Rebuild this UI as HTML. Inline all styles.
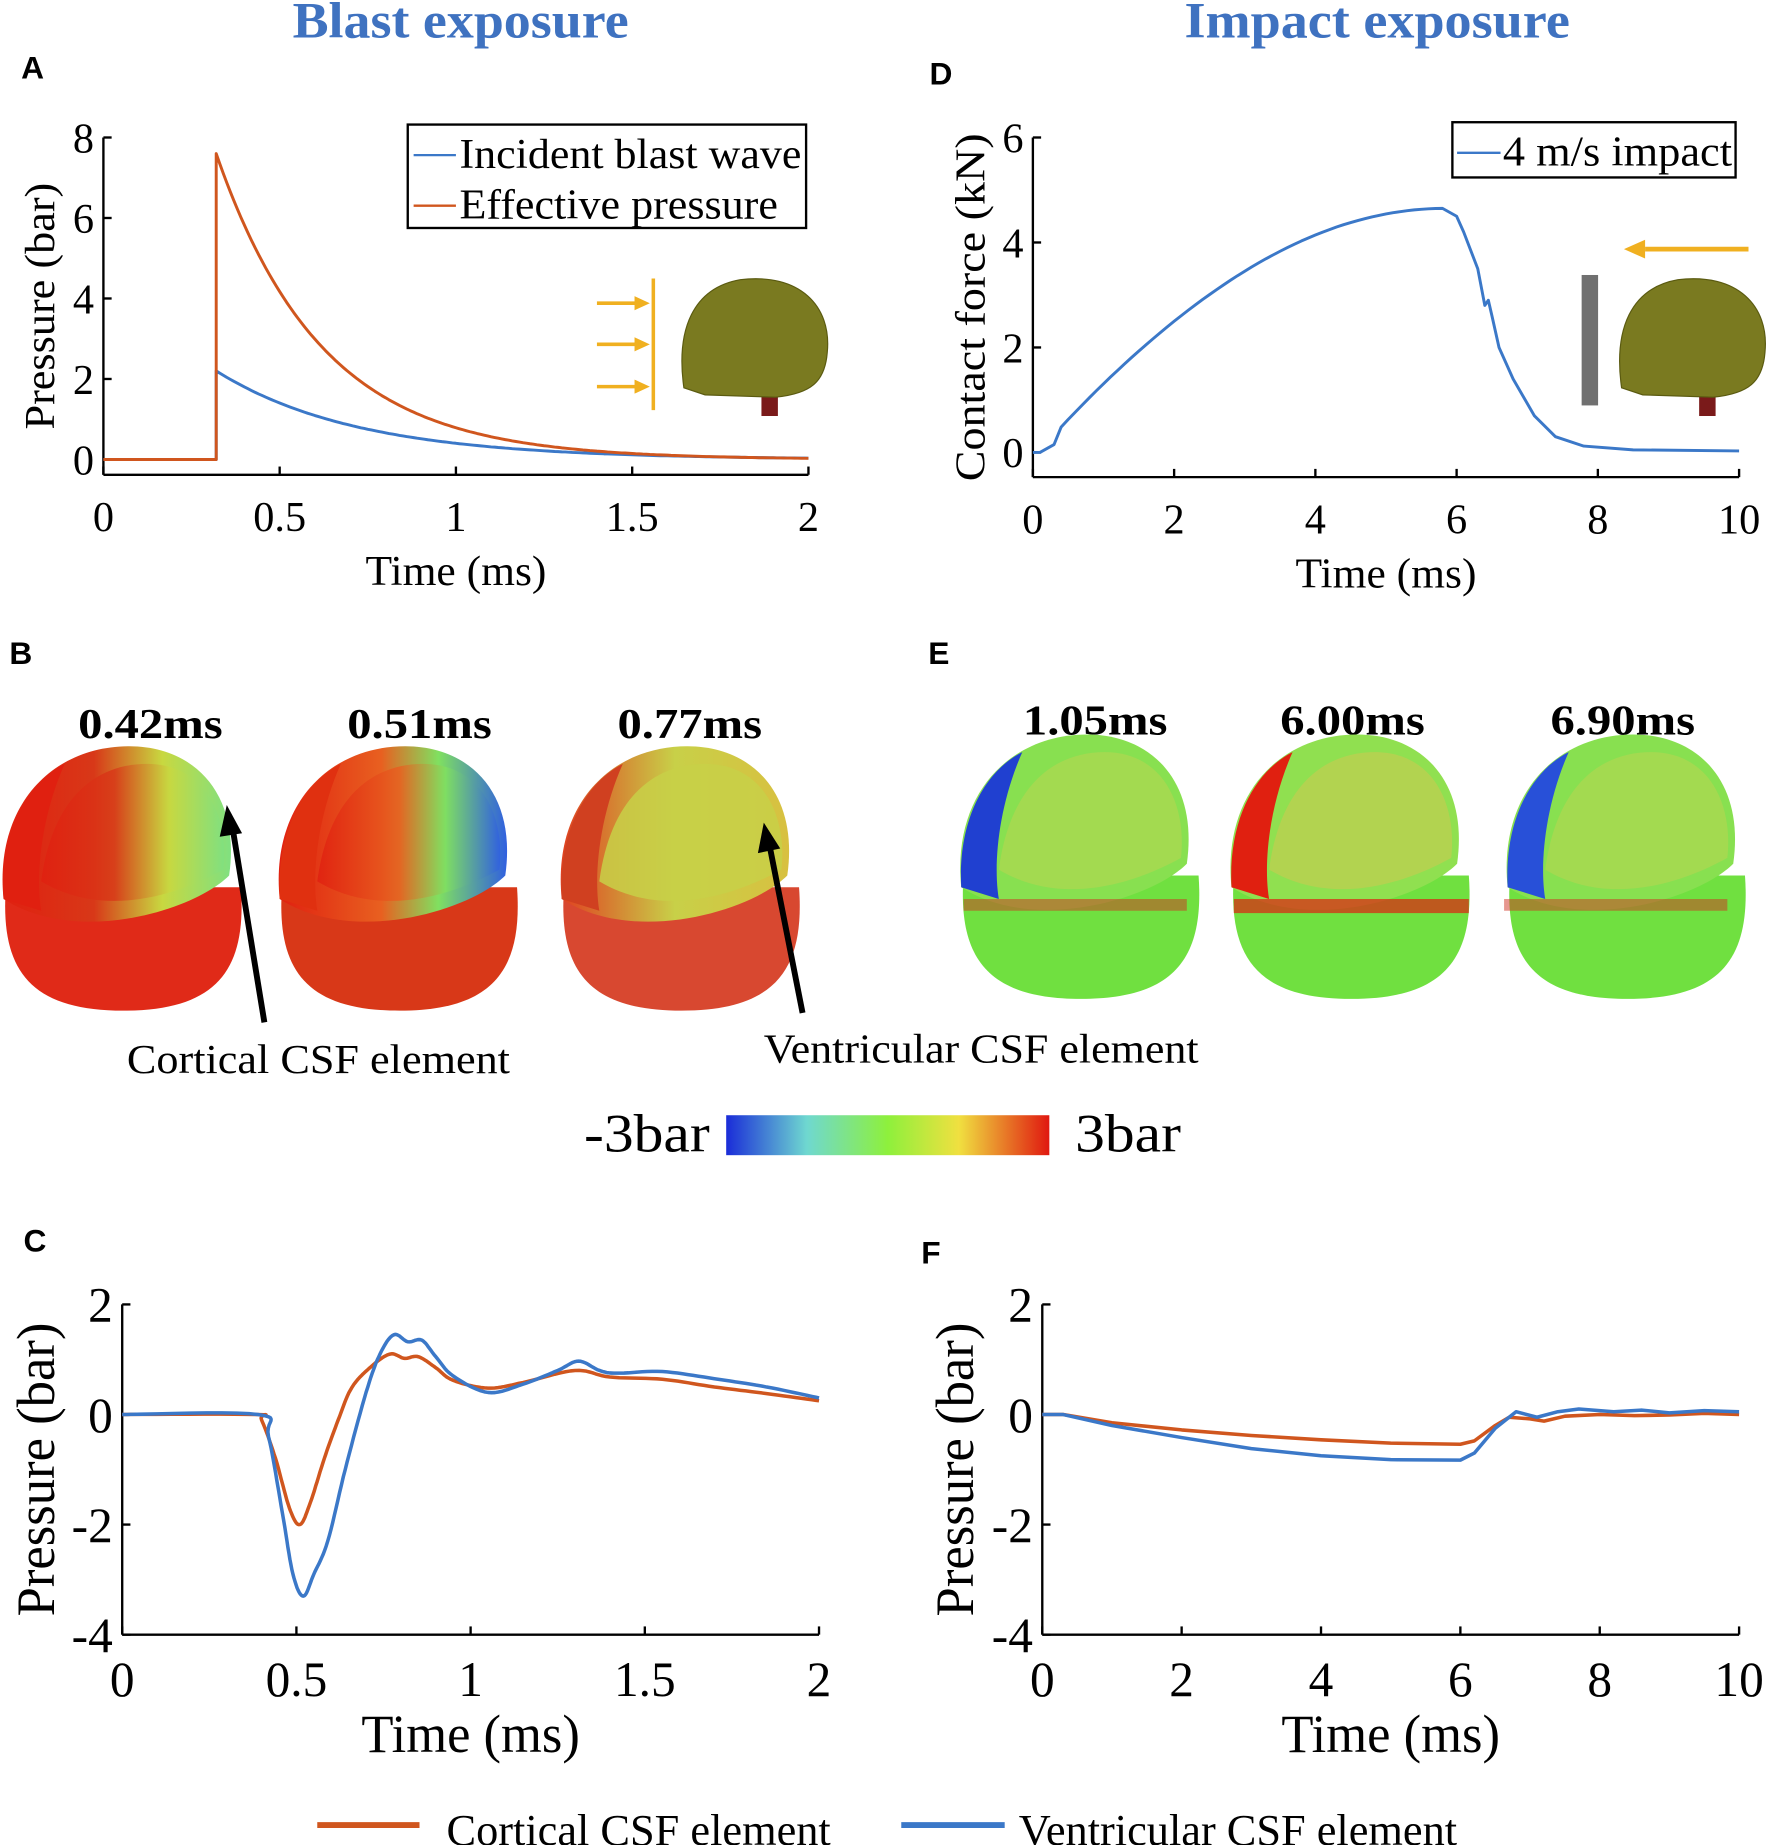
<!DOCTYPE html>
<html><head><meta charset="utf-8"><style>
html,body{margin:0;padding:0;background:#fff}
svg{display:block}
text{font-family:"Liberation Serif",serif}
.sans{font-family:"Liberation Sans",sans-serif;font-weight:bold}
</style></head><body>
<svg id="s" width="1772" height="1845" viewBox="0 0 1508 1570" preserveAspectRatio="none" xmlns="http://www.w3.org/2000/svg">
<defs>
<linearGradient id="cm" x1="0" x2="1" y1="0" y2="0">
<stop offset="0" stop-color="#1a2cd8"/><stop offset="0.25" stop-color="#6fd8d0"/><stop offset="0.5" stop-color="#8ef03c"/><stop offset="0.72" stop-color="#f0e040"/><stop offset="1" stop-color="#e01810"/>
</linearGradient>
<linearGradient id="bA" x1="0" x2="1"><stop offset="0" stop-color="#e02010"/><stop offset="0.4" stop-color="#d83818"/><stop offset="0.7" stop-color="#c8d840"/><stop offset="1" stop-color="#80e080"/></linearGradient>
<linearGradient id="bB" x1="0" x2="1"><stop offset="0" stop-color="#e02010"/><stop offset="0.45" stop-color="#e86020"/><stop offset="0.7" stop-color="#80e060"/><stop offset="1" stop-color="#3060e0"/></linearGradient>
<linearGradient id="bC" x1="0" x2="1"><stop offset="0" stop-color="#e04020"/><stop offset="0.5" stop-color="#c8d048"/><stop offset="1" stop-color="#d8c040"/></linearGradient>
</defs>
<text x="392" y="32" text-anchor="middle" font-size="43" font-weight="bold" fill="#3f72c0" textLength="286" lengthAdjust="spacingAndGlyphs">Blast exposure</text>
<text x="1172" y="32" text-anchor="middle" font-size="43" font-weight="bold" fill="#3f72c0" textLength="328" lengthAdjust="spacingAndGlyphs">Impact exposure</text>
<text class="sans" x="18" y="67" font-size="27">A</text>
<text class="sans" x="791" y="72" font-size="27">D</text>
<text class="sans" x="8" y="565" font-size="27">B</text>
<text class="sans" x="790" y="565" font-size="27">E</text>
<text class="sans" x="20" y="1065" font-size="27">C</text>
<text class="sans" x="784" y="1075" font-size="27">F</text>
<g id="g"></g>
<rect x="347" y="106" width="339" height="88" fill="#fff" stroke="#000" stroke-width="2"/>
<line x1="352" y1="132" x2="388" y2="132" stroke="#3b78c8" stroke-width="2"/>
<line x1="352" y1="175" x2="388" y2="175" stroke="#d0561e" stroke-width="2"/>
<text x="391" y="143" font-size="36" textLength="291" lengthAdjust="spacingAndGlyphs">Incident blast wave</text>
<text x="391" y="186" font-size="36" textLength="271" lengthAdjust="spacingAndGlyphs">Effective pressure</text>
<rect x="1236" y="104" width="241" height="47" fill="#fff" stroke="#000" stroke-width="2"/>
<line x1="1240" y1="130" x2="1277" y2="130" stroke="#3b78c8" stroke-width="2"/>
<text x="1279" y="141" font-size="36" textLength="195" lengthAdjust="spacingAndGlyphs">4 m/s impact</text>
<g stroke="#f0b020" stroke-width="3" fill="#f0b020">
<line x1="556" y1="237" x2="556" y2="349"/>
<line x1="508" y1="258" x2="545" y2="258"/><polygon points="553,258 540,252 540,264" stroke="none"/>
<line x1="508" y1="293" x2="545" y2="293"/><polygon points="553,293 540,287 540,299" stroke="none"/>
<line x1="508" y1="329" x2="545" y2="329"/><polygon points="553,329 540,323 540,335" stroke="none"/>
<line x1="1400" y1="212" x2="1488" y2="212" stroke-width="4"/><polygon points="1382,212 1400,204 1400,220" stroke="none"/>
</g>
<rect x="648" y="328" width="14" height="26" fill="#7a1a1a"/>
<path d="M582,330 C575,280 590,245 630,238 C680,232 708,260 704,300 C702,325 690,335 660,338 L600,336 Z" fill="#7a7a20" stroke="#5a5a10"/>
<rect x="1346" y="234" width="14" height="111" fill="#707070"/>
<rect x="1446" y="328" width="14" height="26" fill="#7a1a1a"/>
<path d="M1380,330 C1373,280 1388,245 1428,238 C1478,232 1506,260 1502,300 C1500,325 1488,335 1458,338 L1398,336 Z" fill="#7a7a20" stroke="#5a5a10"/>
<g font-size="36" font-weight="bold" text-anchor="middle">
<text x="128" y="628" textLength="123" lengthAdjust="spacingAndGlyphs">0.42ms</text><text x="357" y="628" textLength="123" lengthAdjust="spacingAndGlyphs">0.51ms</text><text x="587" y="628" textLength="123" lengthAdjust="spacingAndGlyphs">0.77ms</text>
<text x="932" y="625" textLength="123" lengthAdjust="spacingAndGlyphs">1.05ms</text><text x="1151" y="625" textLength="123" lengthAdjust="spacingAndGlyphs">6.00ms</text><text x="1381" y="625" textLength="123" lengthAdjust="spacingAndGlyphs">6.90ms</text>
</g>
<g id="br"></g>
<line x1="225" y1="870" x2="198" y2="705" stroke="#000" stroke-width="5"/><polygon points="193,685 187,712 206,709" fill="#000"/>
<line x1="683" y1="862" x2="655" y2="720" stroke="#000" stroke-width="5"/><polygon points="650,700 645,726 664,722" fill="#000"/>
<text x="108" y="913" font-size="35" textLength="326" lengthAdjust="spacingAndGlyphs">Cortical CSF element</text>
<text x="650" y="904" font-size="35" textLength="370" lengthAdjust="spacingAndGlyphs">Ventricular CSF element</text>
<text x="604" y="980" font-size="46" text-anchor="end" textLength="107" lengthAdjust="spacingAndGlyphs">-3bar</text>
<rect x="618" y="949" width="275" height="34" fill="url(#cm)"/>
<text x="915" y="980" font-size="46" textLength="90" lengthAdjust="spacingAndGlyphs">3bar</text>
<line x1="270" y1="1553" x2="357" y2="1553" stroke="#d0561e" stroke-width="5"/>
<text x="380" y="1570" font-size="38" textLength="327" lengthAdjust="spacingAndGlyphs">Cortical CSF element</text>
<line x1="767" y1="1553" x2="855" y2="1553" stroke="#3b78c8" stroke-width="5"/>
<text x="867" y="1570" font-size="38" textLength="373" lengthAdjust="spacingAndGlyphs">Ventricular CSF element</text>
</svg>
<script>
var NS="http://www.w3.org/2000/svg",g=document.getElementById("g");
function el(t,a,p,txt){var e=document.createElementNS(NS,t);for(var k in a)e.setAttribute(k,a[k]);if(txt!=null)e.textContent=txt;(p||g).appendChild(e);return e;}
function axes(o){
 var X=function(v){return o.x0+(v-o.xmin)/(o.xmax-o.xmin)*(o.x1-o.x0)},Y=function(v){return o.y0+(v-o.ymin)/(o.ymax-o.ymin)*(o.y1-o.y0)};
 el("line",{x1:o.x0,y1:o.y0,x2:o.x1,y2:o.y0,stroke:"#000","stroke-width":2});
 el("line",{x1:o.x0,y1:o.y0,x2:o.x0,y2:o.y1,stroke:"#000","stroke-width":2});
 o.xt.forEach(function(v){var x=X(v);el("line",{x1:x,y1:o.y0,x2:x,y2:o.y0-7,stroke:"#000","stroke-width":2});el("text",{x:x,y:o.y0+o.xo,"font-size":o.fs,"text-anchor":"middle"},null,String(v));});
 o.yt.forEach(function(v){var y=Y(v);el("line",{x1:o.x0,y1:y,x2:o.x0+7,y2:y,stroke:"#000","stroke-width":2});el("text",{x:o.x0-8,y:y+o.fs*0.35,"font-size":o.fs,"text-anchor":"end"},null,String(v));});
 el("text",{x:(o.x0+o.x1)/2,y:o.y0+o.xlo,"font-size":o.lfs,"text-anchor":"middle",textLength:o.xlw,lengthAdjust:"spacingAndGlyphs"},null,"Time (ms)");
 var yc=(o.y0+o.y1)/2;el("text",{x:o.ylx,y:yc,"font-size":o.lfs,"text-anchor":"middle",textLength:o.ylw,lengthAdjust:"spacingAndGlyphs",transform:"rotate(-90 "+o.ylx+" "+yc+")"},null,o.yl);
 return [X,Y];
}
function path(f,pts,col,w){var d="";pts.forEach(function(p,i){d+=(i?"L":"M")+f[0](p[0]).toFixed(1)+","+f[1](p[1]).toFixed(1)});el("path",{d:d,fill:"none",stroke:col,"stroke-width":w||2.5,"stroke-linejoin":"round"});}
function smooth(k){var out=[];for(var i=0;i<k.length-1;i++){var a=k[i],b=k[i+1],p0=k[Math.max(0,i-1)],p3=k[Math.min(k.length-1,i+2)];for(var s=0;s<10;s++){var t=s/10,t2=t*t,t3=t2*t;var f=function(j){return 0.5*((2*a[j])+(-p0[j]+b[j])*t+(2*p0[j]-5*a[j]+4*b[j]-p3[j])*t2+(-p0[j]+3*a[j]-3*b[j]+p3[j])*t3)};out.push([f(0),f(1)]);}}out.push(k[k.length-1]);return out;}
var OR="#d0561e",BL="#3b78c8";
var A=axes({x0:88,x1:688,y0:404,y1:117,xmin:0,xmax:2,ymin:-0.38,ymax:8,xt:[0,0.5,1,1.5,2],yt:[0,2,4,6,8],fs:36,xo:48,xlo:94,lfs:36,xlw:154,ylw:210,yl:"Pressure (bar)",ylx:46});
var po=[[0,0],[0.32,0]],pb=[[0,0],[0.32,0]];po.push([0.32,7.6]);pb.push([0.32,2.2]);
for(var t=0.33;t<=2.001;t+=0.01){po.push([t,7.6*Math.exp(-(t-0.32)/0.3)]);pb.push([t,2.2*Math.exp(-(t-0.32)/0.4)]);}
path(A,pb,BL,2.5);path(A,po,OR,2.5);
var D=axes({x0:879,x1:1480,y0:406,y1:117,xmin:0,xmax:10,ymin:-0.47,ymax:6,xt:[0,2,4,6,8,10],yt:[0,2,4,6],fs:36,xo:48,xlo:94,lfs:36,xlw:154,ylw:296,yl:"Contact force (kN)",ylx:838});
var dp=[[0,0],[0.1,0],[0.3,0.15]];
for(var t=0.4;t<=5.85;t+=0.1){dp.push([t,4.65*Math.sin(Math.PI/2*Math.pow((t-0.1)/5.75,0.92))]);}
dp=dp.concat([[6.0,4.5],[6.1,4.2],[6.3,3.5],[6.4,2.8],[6.45,2.9],[6.5,2.6],[6.6,2.0],[6.8,1.4],[7.1,0.7],[7.4,0.3],[7.8,0.12],[8.5,0.05],[10,0.03]]);
path(D,dp,BL,2.5);
var C=axes({x0:104,x1:697,y0:1391,y1:1110,xmin:0,xmax:2,ymin:-4,ymax:2,xt:[0,0.5,1,1.5,2],yt:[2,0,-2,-4],fs:42,xo:52,xlo:100,lfs:46,xlw:186,ylw:250,yl:"Pressure (bar)",ylx:46});
path(C,smooth([[0,0],[0.38,0],[0.4,-0.1],[0.44,-0.8],[0.48,-1.7],[0.51,-2.0],[0.54,-1.6],[0.58,-0.8],[0.62,-0.1],[0.66,0.5],[0.72,0.9],[0.77,1.1],[0.81,1.02],[0.85,1.05],[0.9,0.85],[0.95,0.62],[1.05,0.48],[1.15,0.58],[1.3,0.8],[1.4,0.68],[1.55,0.64],[1.7,0.5],[1.85,0.38],[2,0.25]]),OR,3);
path(C,smooth([[0,0],[0.39,0],[0.42,-0.4],[0.46,-1.8],[0.49,-2.9],[0.52,-3.3],[0.55,-2.9],[0.59,-2.3],[0.64,-1.0],[0.7,0.4],[0.74,1.1],[0.78,1.45],[0.82,1.32],[0.86,1.35],[0.9,1.05],[0.95,0.7],[1.05,0.4],[1.15,0.55],[1.25,0.8],[1.31,0.97],[1.37,0.8],[1.42,0.75],[1.55,0.78],[1.7,0.65],[1.85,0.5],[2,0.3]]),BL,3);
var F=axes({x0:887,x1:1480,y0:1391,y1:1110,xmin:0,xmax:10,ymin:-4,ymax:2,xt:[0,2,4,6,8,10],yt:[2,0,-2,-4],fs:42,xo:52,xlo:100,lfs:46,xlw:186,ylw:250,yl:"Pressure (bar)",ylx:828});
path(F,[[0,0],[0.3,0],[1,-0.15],[2,-0.28],[3,-0.38],[4,-0.46],[5,-0.52],[6,-0.54],[6.2,-0.48],[6.5,-0.2],[6.7,-0.05],[7,-0.08],[7.2,-0.12],[7.5,-0.03],[8,0],[8.5,-0.02],[9,-0.01],[9.5,0.02],[10,0]],OR,3);
path(F,[[0,0],[0.3,0],[1,-0.2],[2,-0.42],[3,-0.62],[4,-0.75],[5,-0.82],[6,-0.83],[6.2,-0.7],[6.5,-0.25],[6.8,0.05],[7.1,-0.05],[7.4,0.05],[7.7,0.1],[8.2,0.05],[8.6,0.08],[9,0.03],[9.5,0.07],[10,0.05]],BL,3);
var br=document.getElementById("br");
function brain(cx,cy,top,bot,side,cut){
 el("path",{d:"M"+(cx-100)+","+(cy+10)+" C"+(cx-105)+","+(cy+80)+" "+(cx-80)+","+(cy+115)+" "+(cx)+","+(cy+115)+" C"+(cx+80)+","+(cy+115)+" "+(cx+105)+","+(cy+80)+" "+(cx+100)+","+(cy+10)+" Z",fill:bot},br);
 el("path",{d:"M"+(cx-102)+","+(cy+20)+" C"+(cx-110)+","+(cy-60)+" "+(cx-60)+","+(cy-110)+" "+(cx+5)+","+(cy-110)+" C"+(cx+60)+","+(cy-110)+" "+(cx+100)+","+(cy-70)+" "+(cx+90)+","+(cy)+" C"+(cx+60)+","+(cy+30)+" "+(cx-40)+","+(cy+60)+" "+(cx-102)+","+(cy+20)+" Z",fill:top},br);
 el("path",{d:"M"+(cx-70)+","+(cy+5)+" C"+(cx-60)+","+(cy-70)+" "+(cx-20)+","+(cy-95)+" "+(cx+20)+","+(cy-95)+" C"+(cx+70)+","+(cy-95)+" "+(cx+90)+","+(cy-50)+" "+(cx+85)+","+(cy-5)+" C"+(cx+40)+","+(cy+20)+" "+(cx-20)+","+(cy+35)+" "+(cx-70)+","+(cy+5)+" Z",fill:cut,opacity:0.85},br);
 el("path",{d:"M"+(cx-102)+","+(cy+20)+" C"+(cx-105)+","+(cy-40)+" "+(cx-80)+","+(cy-80)+" "+(cx-50)+","+(cy-95)+" C"+(cx-70)+","+(cy-50)+" "+(cx-75)+","+(cy)+" "+(cx-70)+","+(cy+30)+" Z",fill:side},br);
}
brain(105,745,"url(#bA)","#e02a18","#e02010","url(#bA)");
brain(340,745,"url(#bB)","#d83818","#e03010","url(#bB)");
brain(580,745,"url(#bC)","#d84830","#d04020","#c8d048");
brain(920,735,"#88e050","#70e040","#2040d0","#a8d850");
brain(1150,735,"#90e050","#70e040","#e02010","#b8d050");
brain(1385,735,"#88e050","#70e040","#2850d8","#a8d850");
el("rect",{x:1050,y:765,width:200,height:12,fill:"#e02010",opacity:0.7},br);
el("rect",{x:820,y:765,width:190,height:10,fill:"#d03020",opacity:0.5},br);
el("rect",{x:1280,y:765,width:190,height:10,fill:"#d03020",opacity:0.5},br);
</script>
</body></html>
